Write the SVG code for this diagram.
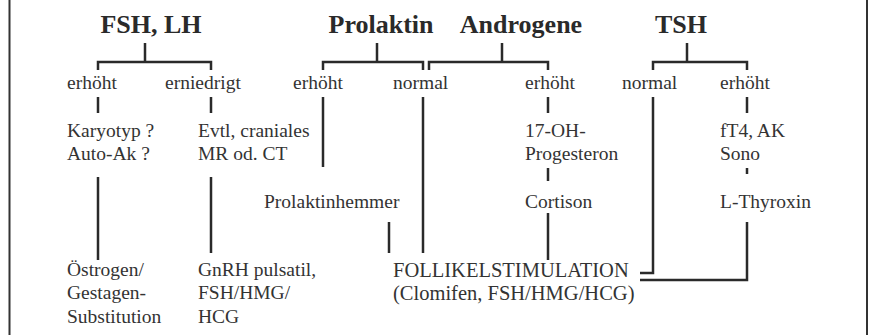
<svg xmlns="http://www.w3.org/2000/svg" width="872" height="335" viewBox="0 0 872 335">
<style>
text{font-family:"Liberation Serif","Times New Roman",serif;fill:#333;font-size:19.5px}
.h{font-weight:bold;font-size:26px;fill:#2a2a2a;text-anchor:middle}
.f{font-size:20.5px}
.c{fill:none;stroke:#2a2a2a;stroke-width:2.5}
.b{stroke:#333;stroke-width:2}
</style>
<rect width="872" height="335" fill="#fff"/>
<line class="b" x1="9.5" y1="0" x2="9.5" y2="335"/>
<line class="b" x1="867" y1="0" x2="867" y2="335"/>
<g id="connectors" class="c">
<path d="M145,43V62M98,70V62H211V70"/>
<path d="M377,43V62M323,70V62H423V70"/>
<path d="M502,43V62M429,70V62H548V70"/>
<path d="M687,43V62M653,70V62H747V70"/>
<path d="M98,97V113M98,177V260"/>
<path d="M211,97V113M211,177V253"/>
<path d="M323,97V167"/>
<path d="M389,222V253"/>
<path d="M423,97V253"/>
<path d="M548,97V113M548,168V181M548,213V260"/>
<path d="M653,97V273H640"/>
<path d="M747,97V113M747,168V174M747,222V280H640"/>
</g>
<g id="fsh"><text class="h" x="151" y="33">FSH, LH</text></g>
<g id="prolaktin"><text class="h" x="381" y="33">Prolaktin</text></g>
<g id="androgene"><text class="h" x="521" y="33">Androgene</text></g>
<g id="tsh"><text class="h" x="681" y="33">TSH</text></g>
<g id="fsh-erhoeht"><text x="67" y="89">erhöht</text></g>
<g id="fsh-erniedrigt"><text x="165" y="89">erniedrigt</text></g>
<g id="prl-erhoeht"><text x="293" y="89">erhöht</text></g>
<g id="prl-normal"><text x="393" y="89">normal</text></g>
<g id="andr-erhoeht"><text x="525" y="89">erhöht</text></g>
<g id="tsh-normal"><text x="622" y="89">normal</text></g>
<g id="tsh-erhoeht"><text x="720" y="89">erhöht</text></g>
<g id="karyotyp"><text x="67" y="137">Karyotyp ?</text><text x="67" y="160">Auto-Ak ?</text></g>
<g id="mr"><text x="198" y="137">Evtl, craniales</text><text x="198" y="160">MR od. CT</text></g>
<g id="ohp"><text x="525" y="137">17-OH-</text><text x="525" y="160">Progesteron</text></g>
<g id="ft4"><text x="720" y="137">fT4, AK</text><text x="720" y="160">Sono</text></g>
<g id="prolaktinhemmer"><text x="264" y="208">Prolaktinhemmer</text></g>
<g id="cortison"><text x="525" y="208">Cortison</text></g>
<g id="thyroxin"><text x="720" y="208">L-Thyroxin</text></g>
<g id="oestrogen"><text x="67" y="276">Östrogen/</text><text x="67" y="299">Gestagen-</text><text x="67" y="323">Substitution</text></g>
<g id="gnrh"><text x="198" y="276">GnRH pulsatil,</text><text x="198" y="299">FSH/HMG/</text><text x="198" y="323">HCG</text></g>
<g id="follikel"><text class="f" x="393" y="277">FOLLIKELSTIMULATION</text><text class="f" x="393" y="300">(Clomifen, FSH/HMG/HCG)</text></g>
</svg>
